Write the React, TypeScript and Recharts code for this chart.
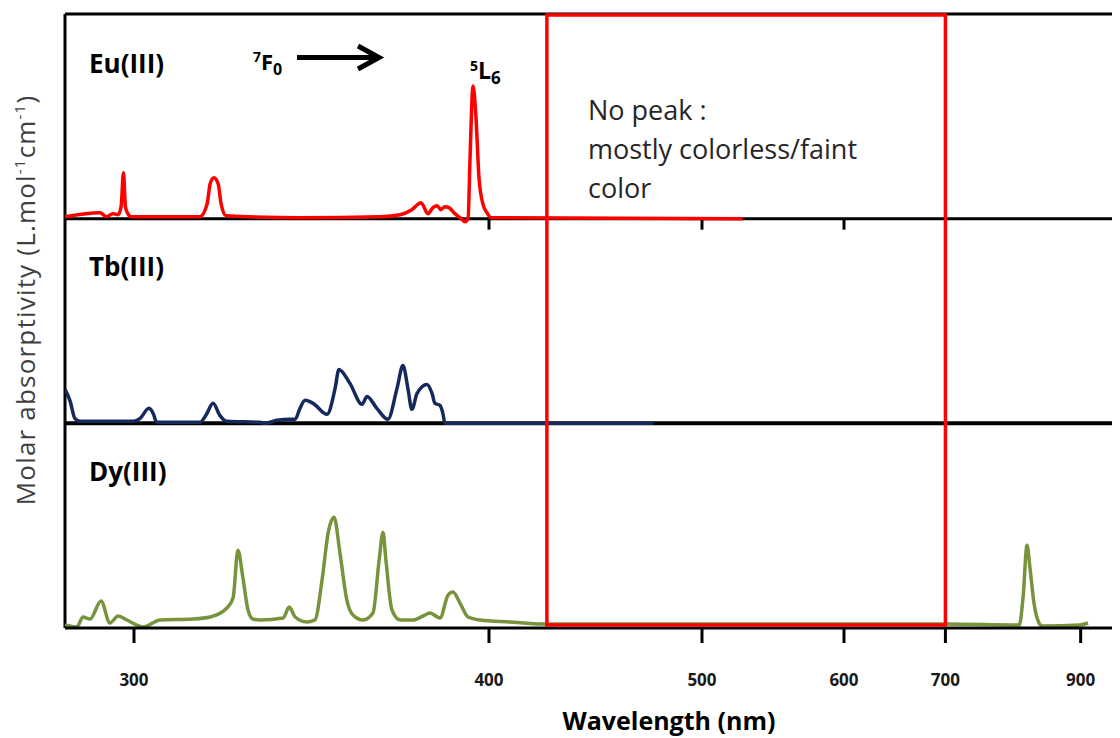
import React from 'react'
import {
  LineChart, Line, XAxis, YAxis, ReferenceLine, ReferenceArea,
} from 'recharts'

// wavelengths (nm) and absorptivity (a.u.)
const euWl = [286.1, 293, 294.3, 295.6, 296.7, 297.3, 297.8, 298.2, 298.7, 299.4, 314.6, 316.3, 317.0, 317.9, 318.9, 319.6, 320.8, 339.7, 362.9, 369.2, 373.0, 376.0, 378.3, 380.0, 381.4, 382.7, 384.1, 385.5, 387.6, 389.4, 391.2, 392.3, 393.0, 394.1, 395.2, 396.3, 397.8, 399.2, 400.8, 525]
const euAbs = [2, 6, 2, 5, 4, 12, 46, 12, 5, 2, 2, 15, 35, 41, 35, 15, 3, 1, 2, 4, 9, 16, 5, 11, 13, 9, 12, 11, 5, 1, -3, 0, 60, 133, 100, 40, 14, 6, 1, 0]

const tbWl = [286.1, 287.1, 288.0, 289.0, 299.8, 301.3, 303.2, 304.1, 304.9, 314.6, 316.0, 317.7, 319.3, 321.0, 329.2, 330.5, 333.6, 337.0, 338.4, 339.7, 341.1, 343.3, 347.2, 349.5, 350.6, 353.8, 357.4, 358.9, 361.9, 365.3, 368.2, 370.1, 371.7, 373.0, 374.7, 378.0, 379.7, 380.7, 382.4, 383.4, 384.1, 473]
const tbAbs = [34, 22, 5, 2, 2, 5, 15, 10, 1, 1, 8, 20, 8, 2, 1, 0, 3, 4, 4, 15, 23, 20, 9, 35, 54, 40, 19, 27, 15, 4, 35, 58, 35, 14, 30, 39, 30, 20, 18, 10, 0, 0]

const dyWl = [286.1, 288.4, 289.6, 291.0, 293.2, 295.0, 296.7, 298.5, 300.6, 301.9, 305.6, 313.0, 317.0, 321.0, 322.5, 323.7, 324.9, 326.2, 327.4, 329.2, 335.2, 336.8, 338.4, 341.6, 343.8, 345.8, 347.5, 349.2, 350.9, 352.9, 354.7, 357.7, 360.7, 362.6, 363.8, 364.7, 366.6, 369.2, 373.4, 377.3, 379.0, 382.4, 385.2, 386.9, 389.4, 392.3, 396.7, 408.0, 421.4, 700, 796.6, 802.3, 808.4, 813.0, 819.2, 827.2, 832.0, 898.7, 914.2]
const dyAbs = [3, 1, 11, 9, 27, 5, 12, 8, 3, 1, 8, 9, 11, 20, 30, 78, 51, 18, 9, 8, 10, 21, 11, 6, 8, 48, 95, 111, 75, 28, 13, 8, 15, 68, 96, 68, 18, 8, 8, 13, 15, 10, 33, 36, 25, 11, 8, 6, 4, 4, 3, 30, 83, 60, 25, 5, 2, 3, 5]

const tickWl = [300, 400, 500, 600, 700, 900]
const euTickWl = [400, 500, 600]
const noPeakWl = [423, 700]
const wlRange = [286.1, 981.6]

// axis is linear in wavenumber (cm-1), labelled in nm
const wn = (nm: number) => 1e7 / nm
const toData = (wl: number[], abs: number[]) => wl.map((w, i) => ({ k: wn(w), v: abs[i] }))

const euData = toData(euWl, euAbs)
const tbData = toData(tbWl, tbAbs)
const dyData = toData(dyWl, dyAbs)

const PANEL = 205
const FONT = '"Open Sans", sans-serif'
const RED = '#ff0000'

export default function App() {
  const sup = { fontSize: 15 }
  const boxL = wn(noPeakWl[0])
  const boxR = wn(noPeakWl[1])
  const boxTop = 3 * PANEL - 1
  const boxBot = 3
  return (
    <div style={{ width: 1112, height: 730 }}>
      <LineChart width={1112} height={730} margin={{ top: 6, right: 0, bottom: 0, left: 57 }}>
        <XAxis
          type="number"
          dataKey="k"
          domain={[wn(wlRange[1]), wn(wlRange[0])]}
          reversed
          allowDataOverflow
          ticks={tickWl.map(wn)}
          tickFormatter={(v: number) => String(Math.round(1e7 / v))}
          height={110}
          axisLine={{ stroke: '#000', strokeWidth: 3 }}
          tickLine={{ stroke: '#000', strokeWidth: 3 }}
          tickSize={15}
          tickMargin={31}
          tick={{ fill: '#1a1a1a', fontSize: 17, fontWeight: 700, fontFamily: FONT }}
        />
        <YAxis yAxisId="eu" domain={[-2 * PANEL, PANEL]} hide allowDataOverflow />
        <YAxis yAxisId="tb" domain={[-PANEL, 2 * PANEL]} hide allowDataOverflow />
        <YAxis yAxisId="dy" domain={[0, 3 * PANEL]} hide allowDataOverflow />

        <ReferenceLine yAxisId="eu" y={PANEL} stroke="#000" strokeWidth={3} />
        <ReferenceLine yAxisId="eu" y={0} stroke="#000" strokeWidth={3} />
        <ReferenceLine yAxisId="tb" y={0} stroke="#000" strokeWidth={4} />
        <ReferenceLine yAxisId="eu" x={wn(wlRange[0])} stroke="#000" strokeWidth={3} />
        {euTickWl.map((w) => (
          <ReferenceLine
            key={w}
            yAxisId="eu"
            segment={[{ x: wn(w), y: 0 }, { x: wn(w), y: -11 }]}
            stroke="#000"
            strokeWidth={3}
          />
        ))}

        <Line data={dyData} yAxisId="dy" dataKey="v" type="monotone" stroke="#77933c" strokeWidth={3.5} dot={false} isAnimationActive={false} />
        <Line data={tbData} yAxisId="tb" dataKey="v" type="monotone" stroke="#15295c" strokeWidth={3.5} dot={false} isAnimationActive={false} />
        <Line data={euData} yAxisId="eu" dataKey="v" type="monotone" stroke={RED} strokeWidth={3.5} dot={false} isAnimationActive={false} />

        <ReferenceArea
          yAxisId="dy"
          x1={boxL}
          x2={boxR}
          y1={boxBot}
          y2={boxTop}
          fill="none"
          stroke={RED}
          strokeWidth={3.5}
          zIndex={1500}
        />

        <g fontFamily={FONT} fill="#000">
          <text x={81} y={65} fontSize={26} fontWeight={700}>Eu(III)</text>
          <text x={81} y={268} fontSize={26} fontWeight={700}>Tb(III)</text>
          <text x={81} y={473} fontSize={26} fontWeight={700}>Dy(III)</text>

          <text x={245} y={62} fontSize={22} fontWeight={700}>
            <tspan fontSize={14} dy={-8}>7</tspan>
            <tspan dy={8}>F</tspan>
            <tspan fontSize={16} dy={5}>0</tspan>
          </text>
          <line x1={289} y1={49.5} x2={368} y2={49.5} stroke="#000" strokeWidth={5} />
          <polyline points="350,38 371,49.5 350,61" fill="none" stroke="#000" strokeWidth={5} />

          <text x={462} y={71} fontSize={23} fontWeight={700}>
            <tspan fontSize={14} dy={-8}>5</tspan>
            <tspan dy={8}>L</tspan>
            <tspan fontSize={17} dy={5}>6</tspan>
          </text>

          <g fontSize={27} fill="#262626">
            <text x={580} y={112}>No peak :</text>
            <text x={580} y={151}>mostly colorless/faint</text>
            <text x={580} y={190}>color</text>
          </g>

          <text x={661} y={722} fontSize={25} fontWeight={700} textAnchor="middle">Wavelength (nm)</text>

          <text transform="translate(27,292) rotate(-90)" textAnchor="middle" fontSize={26} letterSpacing={1.2} fill="#404040">
            Molar absorptivity (L.mol<tspan style={sup} dy={-10}>-1</tspan><tspan dy={10}>cm</tspan><tspan style={sup} dy={-10}>-1</tspan><tspan dy={10}>)</tspan>
          </text>
        </g>
      </LineChart>
    </div>
  )
}
